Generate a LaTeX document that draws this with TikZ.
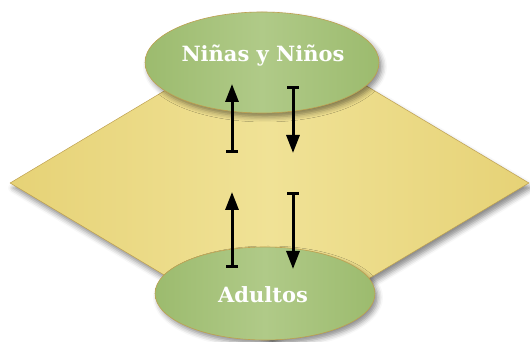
\documentclass[tikz,border=0pt]{standalone}
\usepackage{fontspec}
\setmainfont{DejaVu Serif}
\usepackage{tikz}
\usetikzlibrary{arrows.meta,shapes.geometric,shadows.blur}
\definecolor{campo}{RGB}{230,210,118}
\definecolor{campoclaro}{RGB}{240,226,150}
\definecolor{hoja}{RGB}{156,187,110}
\definecolor{hojaclara}{RGB}{176,202,136}
\definecolor{borde}{RGB}{190,160,80}

\begin{document}
\begin{tikzpicture}[x=1pt,y=1pt,>={Triangle[width=13pt,length=18pt]}]
                  \tikzstyle{every state}=[ellipse,draw=borde,line width=0.6pt,left color=hoja,right color=hoja,middle color=hojaclara,
                        text=white,font=\bfseries\fontsize{21}{25}\selectfont,inner sep=0pt,
                        blur shadow={shadow xshift=3pt,shadow yshift=-4pt,shadow blur radius=5pt,shadow opacity=45}]
                  \tikzstyle{etiqueta}=[text=white,font=\bfseries\fontsize{21}{25}\selectfont]
                  \tikzstyle{flecha}=[{Bar[width=12pt,line width=2.6pt]}->,line width=3pt,black]

                  \useasboundingbox (0,0) rectangle (530,342);

                  \node[diamond,draw=borde,line width=0.5pt,left color=campo,right color=campo,middle color=campoclaro,
                        minimum width=519pt,minimum height=310pt,inner sep=0pt,
                        blur shadow={shadow xshift=3pt,shadow yshift=-5pt,shadow blur radius=5pt,shadow opacity=45}]
                                     (fondo)   at (269.5,159) {};
                  \node[every state,minimum width=234pt,minimum height=101pt] (ninos)   at (262,279.5) {};
                  \node[every state,minimum width=220pt,minimum height=93pt]  (adultos) at (265,48.5)  {};
                  \node[etiqueta] (tninos)   at (263,286) {Niñas y Niños};
                  \node[etiqueta] (tadultos) at (263,47)  {Adultos};

                  \coordinate (a1) at (232,189); \coordinate (b1) at (232,258);
                  \coordinate (a2) at (293,256); \coordinate (b2) at (293,189);
                  \coordinate (a3) at (232,74);  \coordinate (b3) at (232,150);
                  \coordinate (a4) at (293,150); \coordinate (b4) at (293,73);

                  \draw[flecha] (a1) -- (b1);
                  \draw[flecha] (a2) -- (b2);
                  \draw[flecha] (a3) -- (b3);
                  \draw[flecha] (a4) -- (b4);
                \end{tikzpicture}
\end{document}
